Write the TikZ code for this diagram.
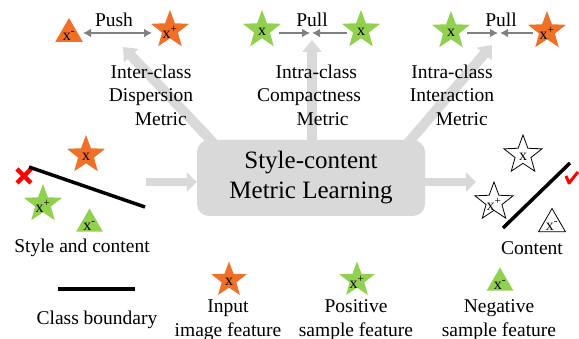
\documentclass[tikz,border=0pt]{standalone}
\usepackage{fontspec}
\setmainfont{Liberation Serif}
\usetikzlibrary{shapes.geometric,arrows.meta,backgrounds}
\definecolor{featorange}{HTML}{F07028}
\definecolor{featgreen}{HTML}{92D050}
\definecolor{boxgray}{HTML}{D9D9D9}
\definecolor{arrowgray}{HTML}{808080}
\tikzset{
  starfeat/.style={star, star points=5, star point ratio=2.4, minimum size=40pt, inner sep=0pt},
  trifeat/.style={regular polygon, regular polygon sides=3, minimum size=32pt, inner sep=0pt},
  featlabel/.style={font=\fontsize{16}{16}\selectfont, inner sep=0pt, yshift=-2pt},
  bigarrow/.style={draw=boxgray, line width=10pt, -{Triangle[width=19pt,length=12pt]}},
  sidearrow/.style={draw=boxgray, line width=8pt, -{Triangle[width=19pt,length=10pt]}},
  smallarrow/.style={draw=arrowgray, line width=2.5pt, -{Latex[width=9pt,length=8pt]}},
  plaintext/.style={font=\fontsize{19.5}{23.5}\selectfont, align=center, inner sep=0pt},
  boundary/.style={line width=3.5pt},
}
\begin{document}
\begin{tikzpicture}[x=1pt,y=-1pt]
  \useasboundingbox (0,0) rectangle (579,339);

  % central box
  \node[fill=boxgray, rounded corners=12pt, minimum width=228pt, minimum height=76pt,
    align=center, font=\fontsize{25}{30}\selectfont] (slb) at (311,178)
    {Style-content\\Metric Learning};

  % big arrows to the three metrics
  \coordinate (dispS) at (220,150);
  \coordinate (dispT) at (123,47);
  \coordinate (compS) at (312,150);
  \coordinate (compT) at (312,40);
  \coordinate (interS) at (402,150);
  \coordinate (interT) at (492,45);
  \begin{scope}[on background layer]
    \draw[bigarrow] (dispS) -- (dispT);
    \draw[bigarrow] (compS) -- (compT);
    \draw[bigarrow] (interS) -- (interT);
  \end{scope}

  \node[plaintext] (dispm) at (151,95) {Inter-class\\Dispersion\\\hspace*{1em}Metric};
  \node[plaintext] (compm) at (309,95) {\hspace*{0.75em}Intra-class\\Compactness\\\hspace*{1.4em}Metric};
  \node[plaintext] (interm) at (452,95) {Intra-class\\Interaction\\\hspace*{1em}Metric};

  % push
  \node[trifeat, fill=featorange, label={[featlabel]center:x\textsuperscript{-}}] (pushneg) at (69,34) {};
  \node[starfeat, fill=featorange, label={[featlabel]center:x\textsuperscript{+}}] (pushpos) at (170,30) {};
  \coordinate (pushL) at (83,33);
  \coordinate (pushR) at (152,33);
  \draw[smallarrow, {Latex[width=9pt,length=8pt]}-{Latex[width=9pt,length=8pt]}] (pushL) -- (pushR);
  \node[plaintext] (push) at (114,20) {Push};

  % pull (compactness)
  \node[starfeat, fill=featgreen, label={[featlabel]center:x}] (cmpa) at (262,30) {};
  \node[starfeat, fill=featgreen, label={[featlabel]center:x}] (cmpb) at (361,30) {};
  \coordinate (cmpL) at (279,33);
  \coordinate (cmpML) at (310,33);
  \coordinate (cmpR) at (347,33);
  \coordinate (cmpMR) at (312,33);
  \draw[smallarrow] (cmpL) -- (cmpML);
  \draw[smallarrow] (cmpR) -- (cmpMR);
  \node[plaintext] (pullc) at (312,20) {Pull};

  % pull (interaction)
  \node[starfeat, fill=featgreen, label={[featlabel]center:x}] (inta) at (451,31) {};
  \node[starfeat, fill=featorange, label={[featlabel]center:x\textsuperscript{+}}] (intb) at (547,31) {};
  \coordinate (intL) at (467,33);
  \coordinate (intML) at (498,33);
  \coordinate (intR) at (533,33);
  \coordinate (intMR) at (500,33);
  \draw[smallarrow] (intL) -- (intML);
  \draw[smallarrow] (intR) -- (intMR);
  \node[plaintext] (pulli) at (501,20) {Pull};

  % style and content
  \node[starfeat, fill=featorange, label={[featlabel]center:x}] (lin) at (86,155) {};
  \draw[red, line width=4.5pt] (17,169) -- (31,183) (17,183) -- (31,169);
  \draw[boundary] (29,167) -- (145,207);
  \node[starfeat, fill=featgreen, label={[featlabel]center:x\textsuperscript{+}}] (lpos) at (43,204) {};
  \node[trifeat, fill=featgreen, minimum size=31pt, label={[featlabel]center:x\textsuperscript{-}}] (lneg) at (89.5,224) {};
  \node[plaintext] (stylec) at (82,248) {Style and content};
  \coordinate (inL) at (146,182);
  \draw[sidearrow] (inL) -- (inL -| slb.west);

  % content
  \coordinate (outR) at (476,182);
  \draw[sidearrow] (outR -| slb.east) -- (outR);
  \node[starfeat, draw, fill=white, line width=0.8pt, label={[featlabel]center:x}] (rin) at (523,155) {};
  \node[starfeat, draw, fill=white, line width=0.8pt, label={[featlabel]center:x\textsuperscript{+}}] (rpos) at (494,202) {};
  \node[trifeat, draw, fill=white, line width=0.8pt, minimum size=31pt, label={[featlabel]center:x\textsuperscript{-}}] (rneg) at (552,224) {};
  \draw[boundary] (503,228) -- (570,163);
  \draw[red, line width=3pt, line join=round] (566,176) -- (569,183) -- (578,172);
  \node[plaintext] (contl) at (532,248) {Content};

  % legend
  \draw[boundary] (58,289) -- (135,289);
  \node[plaintext] (bndl) at (97,320) {Class boundary};
  \node[starfeat, fill=featorange, minimum size=37pt, label={[featlabel]center:x}] (legin) at (229,280) {};
  \node[plaintext] (leginl) at (228,320) {Input\\image feature};
  \node[starfeat, fill=featgreen, minimum size=37pt, label={[featlabel]center:x\textsuperscript{+}}] (legpos) at (357,280) {};
  \node[plaintext] (legposl) at (356,320) {Positive\\sample feature};
  \node[trifeat, fill=featgreen, minimum size=31pt, label={[featlabel]center:x\textsuperscript{-}}] (legneg) at (500,283) {};
  \node[plaintext] (legnegl) at (499,320) {Negative\\sample feature};
\end{tikzpicture}
\end{document}
